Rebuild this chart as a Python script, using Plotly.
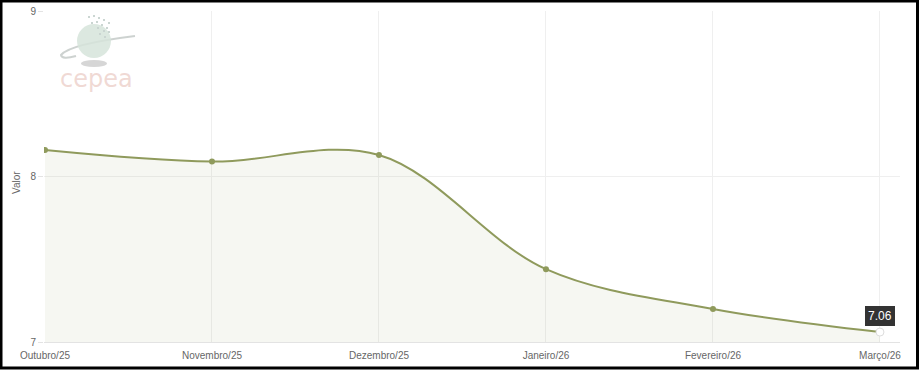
import plotly.graph_objects as go

categories = ["Outubro/25", "Novembro/25", "Dezembro/25", "Janeiro/26", "Fevereiro/26", "Março/26"]
values = [8.16, 8.09, 8.13, 7.44, 7.20, 7.06]
y_ticks = [7, 8, 9]

W, H = 919, 370
ML, MR, MT, MB = 44, 19, 11, 28
PW, PH = W - ML - MR, H - MT - MB

LINE = "#8f9a5c"
GRID = "#efefef"
TXT = "#666666"

x_idx = list(range(len(categories)))

fig = go.Figure()
fig.add_trace(go.Scatter(
    x=x_idx, y=values, mode="lines",
    line=dict(color=LINE, width=2, shape="spline", smoothing=1.0),
    fill="tozeroy", fillcolor="rgba(143,154,92,0.08)",
    hoverinfo="skip", showlegend=False,
))
fig.add_trace(go.Scatter(
    x=x_idx[:-1], y=values[:-1], mode="markers",
    marker=dict(color=LINE, size=6),
    hoverinfo="skip", showlegend=False,
))
fig.add_trace(go.Scatter(
    x=x_idx[-1:], y=values[-1:], mode="markers",
    marker=dict(color="white", size=8, line=dict(color="#dddddd", width=1)),
    hoverinfo="skip", showlegend=False,
))

# tooltip for last point
fig.add_annotation(
    x=x_idx[-1], y=values[-1], xref="x", yref="y",
    text=f"{values[-1]:.2f}", showarrow=False, yshift=6, yanchor="bottom",
    font=dict(family="Liberation Sans, Arial", size=12, color="white"),
    bgcolor="#333333", bordercolor="#333333", borderpad=2,
)

px2x = lambda p: (p - ML) / PW
px2y = lambda p: 1 - (p - MT) / PH

shapes = []
# logo: globe shadow, ring, globe
shapes.append(dict(type="circle", xref="paper", yref="paper", layer="below",
                   x0=px2x(81), x1=px2x(107), y0=px2y(67), y1=px2y(60),
                   fillcolor="rgba(200,200,200,0.75)", line=dict(width=0)))
shapes.append(dict(type="path", xref="paper", yref="paper", layer="below",
                   path=f"M {px2x(135)},{px2y(36)} Q {px2x(70)},{px2y(44)} {px2x(61)},{px2y(55)} Q {px2x(62)},{px2y(60)} {px2x(76)},{px2y(56)}",
                   line=dict(color="rgba(200,205,203,0.9)", width=2)))
shapes.append(dict(type="circle", xref="paper", yref="paper", layer="below",
                   x0=px2x(77), x1=px2x(111), y0=px2y(58), y1=px2y(24),
                   fillcolor="rgba(214,228,219,0.85)", line=dict(width=0)))
# dots on globe
for (dx, dy) in [(88, 16), (93, 15), (98, 17), (103, 19), (108, 22), (96, 21), (91, 22),
                 (101, 24), (106, 27), (97, 27), (103, 30), (108, 31), (99, 33), (104, 36)]:
    shapes.append(dict(type="rect", xref="paper", yref="paper", layer="below",
                       x0=px2x(dx), x1=px2x(dx + 2), y0=px2y(dy + 2), y1=px2y(dy),
                       fillcolor="rgba(200,212,208,0.95)", line=dict(width=0)))
# outer black frame
shapes.append(dict(type="rect", xref="paper", yref="paper", layer="above",
                   x0=px2x(1), x1=px2x(W - 1.5), y0=px2y(H - 2), y1=px2y(1),
                   line=dict(color="black", width=3), fillcolor="rgba(0,0,0,0)"))

fig.add_annotation(xref="paper", yref="paper", x=px2x(96), y=px2y(79),
                   xanchor="center", yanchor="middle",
                   text="cepea", showarrow=False,
                   font=dict(family="DejaVu Sans, Arial", size=24, color="rgba(225,180,170,0.5)"))

# y axis title
fig.add_annotation(xref="paper", yref="paper", x=px2x(16), y=px2y(183),
                   xanchor="center", yanchor="middle", textangle=-90,
                   text="Valor", showarrow=False,
                   font=dict(family="Liberation Sans, Arial", size=10, color=TXT))

fig.update_layout(
    width=W, height=H,
    margin=dict(l=ML, r=MR, t=MT, b=MB),
    paper_bgcolor="white", plot_bgcolor="white",
    shapes=shapes,
    font=dict(family="Liberation Sans, Arial", size=10, color=TXT),
    xaxis=dict(
        range=[-0.006, 5.12], automargin=False,
        tickmode="array", tickvals=x_idx, ticktext=categories,
        showgrid=True, gridcolor=GRID, gridwidth=1,
        showline=True, linecolor="#e3e3e3", zeroline=False,
        ticks="", ticklabelstandoff=4, tickfont=dict(size=10, color=TXT),
    ),
    yaxis=dict(
        range=[7, 9], tickmode="array", tickvals=y_ticks, automargin=False,
        showgrid=True, gridcolor=GRID, zeroline=False,
        ticks="outside", ticklen=5, tickcolor="#e3e3e3",
        tickfont=dict(size=10, color=TXT),
    ),
)

fig.write_html("out.html")
